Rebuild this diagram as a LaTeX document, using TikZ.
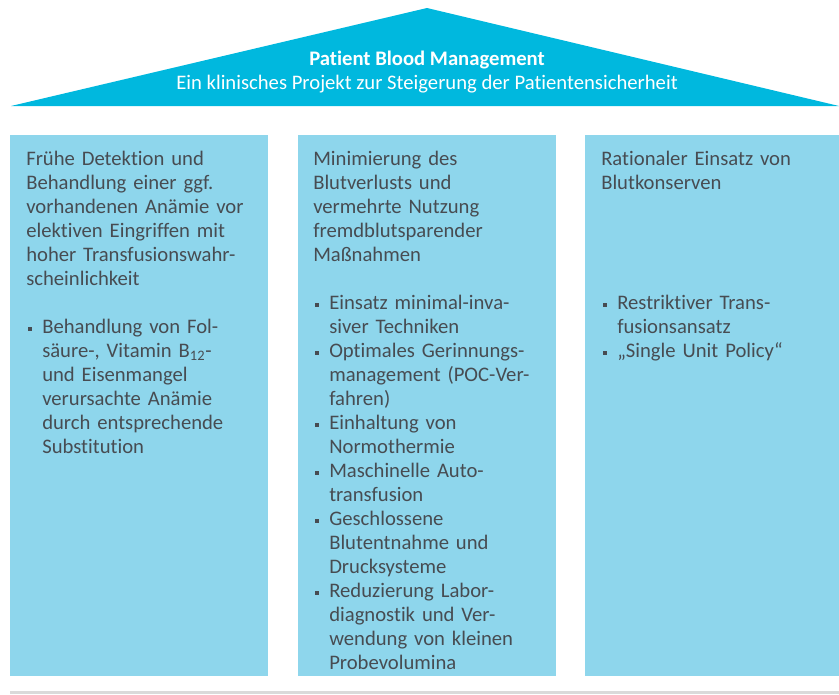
\documentclass[tikz,border=0pt]{standalone}
\usepackage{fontspec}
\setmainfont{Carlito}[Ligatures={NoCommon,TeX}]
\usepackage{tikz}
\usetikzlibrary{positioning}
\definecolor{cRoof}{HTML}{00B8DE}
\definecolor{cPillar}{HTML}{8ED6EC}
\definecolor{cInk}{HTML}{474C52}
\definecolor{cFloor}{HTML}{DADADA}
\newcommand{\pbfont}{\fontsize{15.5}{18}\selectfont}
\newcommand{\pbul}{\hspace{1.5pt}\rule[1.8pt]{3pt}{3pt}}
\newcommand{\pitem}[1]{\noindent\hangindent=12pt\hangafter=1\makebox[12pt][l]{\strut\pbul}#1\par}
\tikzset{
  roof/.style={fill=cRoof},
  pillar/.style={fill=cPillar},
  floor/.style={fill=cFloor},
  ptxt/.style={anchor=north west,inner sep=0pt,text width=180pt,align=left,font=\pbfont,text=cInk},
  rtxt/.style={anchor=base,inner sep=0pt,text=white,font=\pbfont},
}

\begin{document}
\begin{tikzpicture}[x=0.75pt,y=-0.75pt]
  \useasboundingbox (0,0) rectangle (839,694);
  % roof
  \fill[roof] (11,106) -- (427,8) -- (839,106) -- cycle;
  \node[rtxt,font=\pbfont\bfseries] (title) at (427,65) {Patient Blood Management};
  \node[rtxt] (subtitle) at (427,89) {Ein klinisches Projekt zur Steigerung der Patientensicherheit};
  % pillars and floor
  \fill[pillar] (10,135) rectangle (268,676);
  \fill[pillar] (298,135) rectangle (556,676);
  \fill[pillar] (585,135) rectangle (839,676);
  \fill[floor] (10,691) rectangle (839,694);
  % left pillar
  \node[ptxt] (headL) at (26,165-16.8) {\strut Frühe Detektion und\newline
    Behandlung einer ggf.\newline vorhandenen Anämie vor\newline
    elektiven Eingriffen mit\newline hoher Transfusionswahr-\newline scheinlichkeit};
  \node[ptxt] (listL) at (26,333-16.8) {%
    \pitem{Behandlung von Fol-\newline säure-, Vitamin B\textsubscript{12}-\newline
      und Eisenmangel\newline verursachte Anämie\newline
      durch entsprechende\newline Substitution}};
  % middle pillar
  \node[ptxt] (headM) at (313,165-16.8) {\strut Minimierung des\newline
    Blutverlusts und\newline vermehrte Nutzung\newline
    fremdblutsparender\newline Maßnahmen};
  \node[ptxt] (listM) at (313,309-16.8) {%
    \pitem{Einsatz minimal-inva-\newline siver Techniken}
    \pitem{Optimales Gerinnungs-\newline management (POC-Ver-\newline fahren)}
    \pitem{Einhaltung von\newline Normothermie}
    \pitem{Maschinelle Auto-\newline transfusion}
    \pitem{Geschlossene\newline Blutentnahme und\newline Drucksysteme}
    \pitem{Reduzierung Labor-\newline diagnostik und Ver-\newline
      wendung von kleinen\newline Probevolumina}};
  % right pillar
  \node[ptxt] (headR) at (601,165-16.8) {\strut Rationaler Einsatz von\newline
    Blutkonserven};
  \node[ptxt] (listR) at (601,309-16.8) {%
    \pitem{Restriktiver Trans-\newline fusionsansatz}
    \pitem{„Single Unit Policy“}};
\end{tikzpicture}
\end{document}
